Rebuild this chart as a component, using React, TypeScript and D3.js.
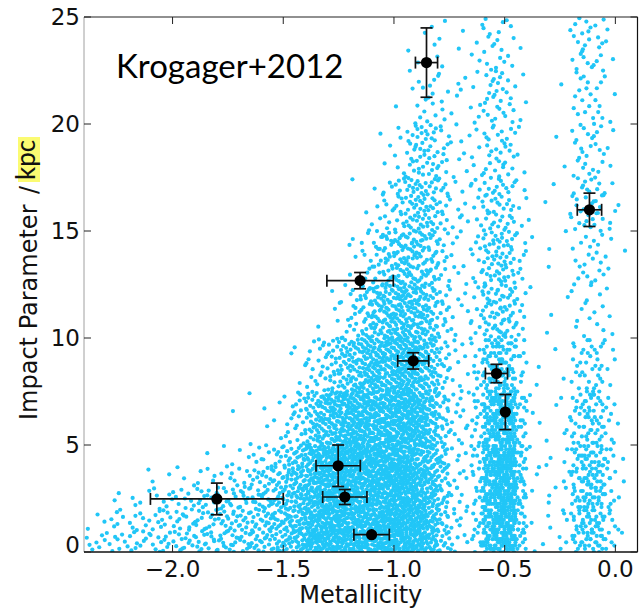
import React, { useMemo } from "react";
import * as d3 from "d3";

// ---- axes ----
const xDomain = [-2.4, 0.1];
const yDomain = [0, 25];
const xTicks = [-2.0, -1.5, -1.0, -0.5, 0.0];
const yTicks = [0, 5, 10, 15, 20, 25];

// ---- Krogager+2012 absorbers (black points with error bars) ----
const obsMetallicity = [-1.8, -1.252, -1.222, -1.101, -1.153, -0.913, -0.853, -0.537, -0.497, -0.117];
const obsImpact = [2.48, 4.03, 2.57, 0.81, 12.68, 8.93, 22.87, 8.34, 6.54, 15.99];
const obsMetErr = [0.3, 0.1, 0.1, 0.08, 0.15, 0.07, 0.05, 0.05, 0, 0.055];
const obsImpactErr = [0.74, 0.97, 0.35, 0, 0.38, 0.38, 1.62, 0.43, 0.82, 0.78];

// ---- simulated cloud: dot density ----
// columns: metallicity bins of 0.05 starting at -2.4 (50 bins)
// rows: impact-parameter bands given by densityRowEdges
// values: dots per (0.05 dex x 1 kpc)
const densityBinStart = -2.4;
const densityBinWidth = 0.05;
const densityRowEdges = [0, 1, 2, 3, 4, 5, 7.5, 10, 12.5, 15, 17.5, 20, 22.5, 25];
// bins whose impact parameters come out in discrete steps (horizontal streaks)
const streakBins = [35, 36, 37, 38, 39, 43, 44, 45, 46, 47, 48];
const streakStep = 0.15;

const densityRow0 = [3,4,4,5,5,5,6,6,7,7, 8,8,9,9,9,10,11,13,16,20, 25,28,30,30,30,30,30,30,30,28, 26,20,10,4,2,6,22,32,32,10, 1,1,1,2,9,13,12,5,1,0];
const densityRow1 = [1,2,3,3,4,4,5,5,6,7, 7,8,8,9,9,10,11,13,16,20, 25,28,30,30,30,30,30,30,30,28, 26,20,10,4,2,6,22,32,30,10, 1,1,1,2,9,13,12,5,1,0];
const densityRow2 = [0,0,0.5,1,1.5,2,3,3.5,4,5, 6,6,7,7,8,9,10,12,15,19, 24,28,30,30,30,30,30,30,30,28, 24,20,10,4,2,6,22,32,30,10, 0.5,0.5,1,2,9,13,12,5,1,0];
const densityRow3 = [0,0,0,0,0,0.5,0.5,1,1,1.5, 2,2.5,3,4,5,6,8,10,14,18, 23,27,29,30,30,30,30,30,30,28, 24,18,10,4,2,6,22,32,30,10, 0.5,0.5,0.5,2,9,13,12,5,1,0];
const densityRow4 = [0,0,0,0,0,0,0,0,0,0.3, 0.3,0.5,1,1,1.5,3,5,7,10,15, 20,24,27,29,30,30,30,30,30,28, 24,18,10,3,2,6,22,30,30,10, 0.5,0.5,0.5,2,9,13,11,5,1,0];
const densityRow5 = [0,0,0,0,0,0,0,0,0,0, 0,0,0,0.2,0.3,0.5,0.8,1,3,6, 11,16,21,24,26,27,28,28,28,27, 24,17,8,3,2.5,5,18,26,24,8, 0.6,0.6,0.3,1.5,6,9,8,3,0.3,0];
const densityRow6 = [0,0,0,0,0,0,0,0,0,0, 0,0,0,0,0,0,0,0,0.3,1, 3,5,8,11,14,17,20,22,23,22, 19,13,6,2.5,2,4,10,14,12,4, 0.4,0.3,0.3,0.5,4,5,5,2,0,0];
const densityRow7 = [0,0,0,0,0,0,0,0,0,0, 0,0,0,0,0,0,0,0,0,0, 0,0.3,1,2.5,5,9,13,16,17,17, 15,11,5,2,1.5,3,8,10,8,3, 0.3,0.3,0.3,0.3,1.5,2,2,1,0,0];
const densityRow8 = [0,0,0,0,0,0,0,0,0,0, 0,0,0,0,0,0,0,0,0,0, 0,0,0,0.4,1.2,3,6.5,9.5,11.5,12, 11,8.5,4.5,2,1.5,3,7,9,7,3, 0.3,0.3,0.3,0.3,2.5,3,3,1,0.3,0];
const densityRow9 = [0,0,0,0,0,0,0,0,0,0, 0,0,0,0,0,0,0,0,0,0, 0,0,0,0,0.2,0.8,1.8,3.5,6.5,9, 10,8.5,5,2,2,3,6,7,5,2, 0.3,0.3,0.3,0.3,4,5.5,5,2,0.3,0];
const densityRow10 = [0,0,0,0,0,0,0,0,0,0, 0,0,0,0,0,0,0,0,0,0, 0,0,0,0,0,0,0.2,0.6,2,5, 7,6.5,4,1.5,1.5,2,4,5,4,1, 0,0,0.3,0.3,3,4,3,1,0,0];
const densityRow11 = [0,0,0,0,0,0,0,0,0,0, 0,0,0,0,0,0,0,0,0,0, 0,0,0,0,0,0,0,0,0.3,1, 2.5,3,2,1,1,2,4,5,3,1, 0,0,0,0.3,2.5,3,3,1,0,0];
const densityRow12 = [0,0,0,0,0,0,0,0,0,0, 0,0,0,0,0,0,0,0,0,0, 0,0,0,0,0,0,0,0,0,0.2, 0.8,1.2,1,0.5,0.5,1.5,3,3,2,0.5, 0,0,0,0.3,3,4,3,1,0,0];

const densityRows = [
  densityRow0, densityRow1, densityRow2, densityRow3, densityRow4, densityRow5, densityRow6,
  densityRow7, densityRow8, densityRow9, densityRow10, densityRow11, densityRow12,
];

// deterministic low-discrepancy placement of dots inside each density cell
function halton(index: number, base: number) {
  let f = 1;
  let r = 0;
  let i = index;
  while (i > 0) {
    f /= base;
    r += f * (i % base);
    i = Math.floor(i / base);
  }
  return r;
}

const W = 640;
const H = 609;
const left = 84;
const right = 637.5;
const top = 17;
const bottom = 552;

const DEJAVU = "'DejaVu Sans', sans-serif";
const CALIBRI_LIKE = "Lato, 'Open Sans', sans-serif";

function fmtX(v: number) {
  const s = Math.abs(v).toFixed(1);
  return v < 0 ? "\u2212" + s : s;
}

export default function App() {
  const x = d3.scaleLinear().domain(xDomain).range([left, right]);
  const y = d3.scaleLinear().domain(yDomain).range([bottom, top]);

  const dots = useMemo(() => {
    const out: [number, number][] = [];
    let counter = 1;
    densityRows.forEach((row, r) => {
      const y0 = densityRowEdges[r];
      const h = densityRowEdges[r + 1] - y0;
      row.forEach((d, i) => {
        const n = Math.round(d * h);
        const x0 = densityBinStart + i * densityBinWidth;
        const streak = streakBins.includes(i) && r <= 6;
        for (let k = 0; k < n; k++) {
          const u = halton(counter, 2);
          const v = halton(counter, 3);
          counter++;
          let yy = y0 + v * h;
          if (streak) yy = Math.round(yy / streakStep) * streakStep;
          out.push([x0 + u * densityBinWidth, yy]);
        }
      });
    });
    return out;
  }, []);

  const obs = obsMetallicity.map((m, i) => ({
    m,
    b: obsImpact[i],
    dm: obsMetErr[i],
    db: obsImpactErr[i],
  }));

  const cap = 6;
  const tickLen = 7;

  return (
    <svg width={W} height={H} style={{ display: "block", position: "absolute", left: 0, top: 0 }}>
      <style>{`body{margin:0}`}</style>
      <rect x={0} y={0} width={W} height={H} fill="#ffffff" />
      <defs>
        <clipPath id="plotClip">
          <rect x={left} y={top} width={right - left} height={bottom - top} />
        </clipPath>
      </defs>

      <g clipPath="url(#plotClip)">
        {dots.map((p, i) => (
          <circle key={i} cx={x(p[0])} cy={y(p[1])} r={2.1} fill="#21c6f7" />
        ))}
      </g>

      {/* error bars */}
      <g stroke="#111" strokeWidth={1.7} fill="none">
        {obs.map((o, i) => (
          <g key={i}>
            {o.dm > 0 && (
              <>
                <line x1={x(o.m - o.dm)} x2={x(o.m + o.dm)} y1={y(o.b)} y2={y(o.b)} />
                <line x1={x(o.m - o.dm)} x2={x(o.m - o.dm)} y1={y(o.b) - cap} y2={y(o.b) + cap} />
                <line x1={x(o.m + o.dm)} x2={x(o.m + o.dm)} y1={y(o.b) - cap} y2={y(o.b) + cap} />
              </>
            )}
            {o.db > 0 && (
              <>
                <line x1={x(o.m)} x2={x(o.m)} y1={y(o.b - o.db)} y2={y(o.b + o.db)} />
                <line x1={x(o.m) - cap} x2={x(o.m) + cap} y1={y(o.b - o.db)} y2={y(o.b - o.db)} />
                <line x1={x(o.m) - cap} x2={x(o.m) + cap} y1={y(o.b + o.db)} y2={y(o.b + o.db)} />
              </>
            )}
          </g>
        ))}
      </g>
      <g fill="#000">
        {obs.map((o, i) => (
          <circle key={i} cx={x(o.m)} cy={y(o.b)} r={5.6} />
        ))}
      </g>

      {/* spines */}
      <line x1={left} x2={left} y1={top} y2={bottom} stroke="#a0a0a0" strokeWidth={1} />
      <line x1={left} x2={right} y1={top} y2={top} stroke="#222" strokeWidth={1.2} />
      <line x1={right} x2={right} y1={top} y2={bottom} stroke="#111" strokeWidth={1.2} />
      <line x1={left} x2={right} y1={bottom} y2={bottom} stroke="#111" strokeWidth={1.4} />

      {/* ticks */}
      <g stroke="#222" strokeWidth={1}>
        {xTicks.map((t) => (
          <g key={"xt" + t}>
            <line x1={x(t)} x2={x(t)} y1={bottom} y2={bottom - tickLen} />
            <line x1={x(t)} x2={x(t)} y1={top} y2={top + tickLen} />
          </g>
        ))}
        {yTicks.map((t) => (
          <g key={"yt" + t}>
            <line x1={left} x2={left + tickLen} y1={y(t)} y2={y(t)} />
            <line x1={right} x2={right - tickLen} y1={y(t)} y2={y(t)} />
          </g>
        ))}
      </g>

      {/* tick labels */}
      <g fontFamily={DEJAVU} fontSize={23} fill="#111">
        {xTicks.map((t) => (
          <text key={"xl" + t} x={x(t)} y={576.5} textAnchor="middle">
            {fmtX(t)}
          </text>
        ))}
        {yTicks.map((t) => (
          <text key={"yl" + t} x={80} y={Math.min(y(t) + 8.4, 552.5)} textAnchor="end">
            {String(t)}
          </text>
        ))}
      </g>

      {/* axis titles */}
      <text x={(left + right) / 2} y={603} textAnchor="middle" fontFamily={DEJAVU} fontSize={24} fill="#111">
        Metallicity
      </text>
      <g transform="translate(37,420) rotate(-90)">
        <text x={0} y={0} fontFamily={DEJAVU} fontSize={24} fill="#111">
          Impact Parameter
        </text>
        <text x={226} y={0} fontFamily={DEJAVU} fontSize={24} fill="#111">
          /
        </text>
        <rect x={238} y={-19} width={45} height={22} fill="#fbfb72" />
        <text x={240} y={-2} fontFamily={CALIBRI_LIKE} fontSize={26} fill="#111">
          kpc
        </text>
      </g>

      <text x={116} y={78} fontFamily={CALIBRI_LIKE} fontSize={33} fill="#000">
        Krogager+2012
      </text>
    </svg>
  );
}
